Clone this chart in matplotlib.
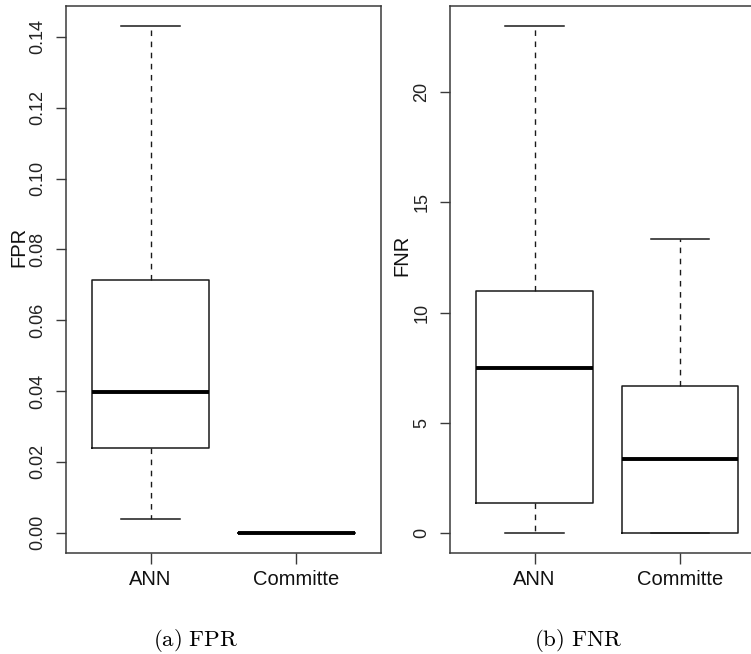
import matplotlib
matplotlib.use("Agg")
import matplotlib.pyplot as plt

plt.rcParams['font.family'] = ['Liberation Sans', 'DejaVu Sans']
plt.rcParams['mathtext.fontset'] = 'cm'

categories = ["ANN", "Committe"]

# FPR five-number summaries (whislo, q1, median, q3, whishi)
fpr_whislo = [0.004, 0.0]
fpr_q1 = [0.024, 0.0]
fpr_med = [0.0397, 0.0]
fpr_q3 = [0.0715, 0.0]
fpr_whishi = [0.143, 0.0]

# FNR five-number summaries
fnr_whislo = [0.0, 0.0]
fnr_q1 = [1.35, 0.0]
fnr_med = [7.47, 3.33]
fnr_q3 = [11.0, 6.66]
fnr_whishi = [23.0, 13.33]

fpr_ticks = [0.00, 0.02, 0.04, 0.06, 0.08, 0.10, 0.12, 0.14]
fnr_ticks = [0, 5, 10, 15, 20]

ylabels = ["FPR", "FNR"]
captions = [r"$\mathrm{(a)\ FPR}$", r"$\mathrm{(b)\ FNR}$"]

W, H = 751, 654
fig = plt.figure(figsize=(W / 100, H / 100), dpi=100)

ax1 = fig.add_axes([66 / W, (H - 553) / H, 315 / W, 547 / H])
ax2 = fig.add_axes([450 / W, (H - 553) / H, 314.7 / W, 547 / H])

LC = '#1a1a1a'
SC = '#3a3a3a'


def make_stats(lo, q1, med, q3, hi):
    return [dict(whislo=a, q1=b, med=c, q3=d, whishi=e, fliers=[], label=lab)
            for a, b, c, d, e, lab in zip(lo, q1, med, q3, hi, categories)]


def draw(ax, stats, ticks, fmt, ylabel, label_xy):
    ax.bxp(stats, positions=[1, 2], widths=0.8, capwidths=0.4, showfliers=False,
           boxprops=dict(color=LC, linewidth=1.1),
           whiskerprops=dict(color=LC, linewidth=1.0, linestyle=(0, (4, 4))),
           capprops=dict(color=LC, linewidth=1.1),
           medianprops=dict(color='black', linewidth=2.8, solid_capstyle='butt'))
    lo = min(s['whislo'] for s in stats)
    hi = max(s['whishi'] for s in stats)
    rng = hi - lo
    ax.set_ylim(lo - 0.04 * rng, hi + 0.04 * rng)
    ax.set_xlim(0.42, 2.58)
    ax.set_xticks([1, 2])
    ax.set_xticklabels(categories)
    ax.set_yticks(ticks)
    ax.set_yticklabels([fmt.format(t) for t in ticks])
    ax.tick_params(axis='y', labelrotation=90, length=7, width=1.0, color=SC,
                   labelsize=13, pad=7, labelcolor='#222222')
    ax.tick_params(axis='x', length=8, width=1.0, color=SC, labelsize=14.5,
                   pad=4, labelcolor='#111111')
    for sp in ax.spines.values():
        sp.set_color(SC)
        sp.set_linewidth(1.1)
    ax.set_ylabel(ylabel, fontsize=14.5, color='#111111')
    ax.yaxis.set_label_coords(*label_xy)
    ax.yaxis.label.set_va('center')
    for lbl in ax.get_yticklabels():
        lbl.set_va('center')


draw(ax1, make_stats(fpr_whislo, fpr_q1, fpr_med, fpr_q3, fpr_whishi),
     fpr_ticks, "{:.2f}", ylabels[0], (-0.149, 0.56))
draw(ax2, make_stats(fnr_whislo, fnr_q1, fnr_med, fnr_q3, fnr_whishi),
     fnr_ticks, "{:d}", ylabels[1], (-0.152, 0.545))

fig.text(196 / W, 1 - 641 / H, captions[0], ha='center', va='center', fontsize=16.5)
fig.text(578 / W, 1 - 641 / H, captions[1], ha='center', va='center', fontsize=16.5)

fig.savefig("out.png", dpi=100)
